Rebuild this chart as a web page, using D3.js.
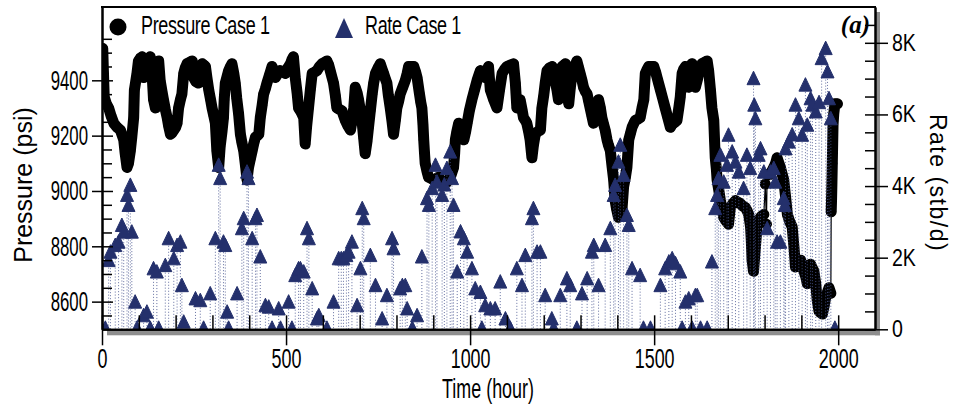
<!DOCTYPE html>
<html>
<head>
<meta charset="utf-8">
<script src="https://cdn.jsdelivr.net/npm/d3@7"></script>
<style>
  body { margin: 0; background: #fff; }
  svg { display: block; }
</style>
</head>
<body>
<svg id="chart" width="960" height="406"></svg>
<script>
// [hour, psi]
const pressureSeries = [[2,9515],[4,9425],[6,9340],[12,9315],[18,9300],[25,9270],[32,9245],[41,9230],[50,9220],[59,9185],[63,9135],[68,9085],[72,9100],[77,9145],[81,9195],[86,9265],[88,9365],[95,9425],[99,9470],[104,9480],[109,9485],[113,9410],[118,9440],[122,9460],[127,9480],[131,9485],[136,9425],[140,9330],[145,9300],[147,9365],[149,9425],[154,9470],[158,9400],[163,9360],[167,9330],[172,9295],[177,9265],[181,9235],[186,9205],[190,9210],[195,9220],[200,9230],[204,9245],[208,9300],[213,9330],[217,9350],[222,9425],[226,9445],[231,9460],[238,9465],[245,9470],[249,9410],[255,9395],[262,9390],[267,9425],[272,9460],[277,9455],[281,9450],[285,9410],[290,9365],[295,9330],[299,9300],[304,9270],[308,9245],[312,9145],[317,9085],[321,9160],[326,9215],[330,9265],[332,9330],[335,9390],[340,9415],[344,9435],[349,9450],[353,9460],[358,9425],[362,9390],[366,9335],[371,9280],[376,9205],[380,9175],[385,9145],[390,9090],[394,9040],[398,9085],[403,9115],[408,9145],[412,9170],[417,9195],[422,9200],[426,9205],[430,9265],[435,9310],[439,9350],[444,9370],[448,9390],[455,9420],[462,9450],[467,9430],[471,9410],[478,9425],[484,9435],[491,9430],[498,9425],[505,9445],[512,9460],[516,9475],[520,9485],[525,9410],[530,9355],[534,9300],[541,9285],[548,9265],[552,9170],[556,9235],[561,9300],[566,9365],[571,9425],[578,9430],[584,9435],[591,9450],[598,9460],[605,9465],[611,9470],[616,9455],[620,9435],[625,9410],[629,9390],[634,9345],[638,9300],[645,9295],[652,9290],[657,9270],[661,9255],[668,9235],[675,9220],[680,9260],[684,9300],[688,9375],[693,9355],[697,9330],[702,9290],[707,9245],[711,9190],[715,9135],[720,9180],[724,9230],[729,9290],[734,9350],[738,9390],[743,9425],[750,9445],[756,9460],[761,9440],[765,9425],[770,9405],[774,9390],[778,9345],[783,9300],[788,9250],[792,9205],[797,9255],[801,9300],[806,9325],[810,9350],[817,9375],[824,9400],[829,9425],[833,9450],[840,9450],[847,9450],[852,9430],[856,9410],[862,9355],[866,9320],[869,9300],[872,9240],[874,9185],[876,9140],[878,9100],[883,9070],[887,9050],[894,9045],[901,9040],[908,9045],[915,9050],[922,9035],[928,9025],[935,9030],[942,9040],[949,9060],[955,9085],[958,9135],[960,9185],[964,9215],[969,9245],[976,9215],[983,9185],[988,9215],[992,9245],[998,9290],[1005,9330],[1012,9365],[1019,9400],[1024,9420],[1028,9435],[1033,9430],[1037,9425],[1041,9410],[1046,9430],[1050,9450],[1055,9365],[1064,9330],[1073,9300],[1080,9365],[1087,9425],[1094,9440],[1100,9450],[1109,9455],[1118,9460],[1123,9390],[1127,9300],[1132,9315],[1136,9330],[1141,9295],[1145,9265],[1150,9255],[1154,9245],[1159,9215],[1163,9185],[1168,9120],[1172,9165],[1177,9205],[1184,9215],[1191,9220],[1195,9300],[1200,9345],[1204,9390],[1209,9435],[1216,9445],[1223,9450],[1227,9425],[1231,9400],[1236,9365],[1240,9330],[1245,9390],[1250,9450],[1255,9455],[1259,9460],[1263,9365],[1268,9315],[1272,9370],[1277,9425],[1284,9450],[1290,9470],[1295,9445],[1299,9425],[1304,9400],[1308,9375],[1313,9360],[1318,9350],[1322,9325],[1326,9300],[1331,9270],[1335,9245],[1342,9285],[1349,9330],[1354,9300],[1358,9265],[1363,9240],[1367,9220],[1372,9185],[1376,9165],[1381,9145],[1386,9085],[1390,9040],[1394,8965],[1398,8935],[1403,8905],[1408,8920],[1413,8940],[1417,9015],[1422,9050],[1426,9085],[1431,9185],[1436,9210],[1440,9230],[1445,9245],[1449,9255],[1456,9260],[1462,9265],[1467,9300],[1472,9330],[1476,9425],[1481,9440],[1485,9450],[1492,9450],[1499,9450],[1504,9430],[1508,9410],[1513,9385],[1517,9365],[1524,9330],[1530,9300],[1537,9265],[1544,9230],[1549,9240],[1553,9245],[1558,9250],[1562,9255],[1567,9300],[1571,9340],[1576,9425],[1580,9440],[1585,9450],[1590,9410],[1594,9375],[1599,9420],[1603,9460],[1608,9420],[1612,9375],[1617,9400],[1621,9425],[1626,9445],[1630,9460],[1637,9465],[1644,9470],[1648,9435],[1653,9365],[1657,9300],[1662,9255],[1664,9185],[1666,9120],[1669,9080],[1671,9040],[1676,9000],[1680,8965],[1685,8935],[1689,8905],[1696,8890],[1702,8880],[1707,8940],[1714,8955],[1721,8965],[1727,8960],[1734,8955],[1741,8945],[1748,8940],[1752,8930],[1757,8915],[1762,8870],[1764,8820],[1766,8750],[1770,8710],[1775,8795],[1780,8880],[1784,8895],[1789,8905],[1793,8910],[1798,8915],[1802,9025],[1805,8880],[1807,9060],[1812,9060],[1816,9060],[1821,9075],[1825,9085],[1830,9100],[1834,9120],[1839,9100],[1843,9085],[1848,9060],[1852,9040],[1857,8980],[1862,8915],[1868,8890],[1875,8870],[1880,8795],[1884,8725],[1891,8740],[1898,8750],[1903,8730],[1907,8710],[1912,8690],[1916,8665],[1921,8700],[1925,8735],[1930,8720],[1934,8710],[1939,8665],[1943,8605],[1948,8565],[1952,8560],[1957,8555],[1962,8585],[1966,8615],[1971,8635],[1975,8650],[1980,8630],[1981,8925],[1982,8970],[1983,9030],[1984,9100],[1985,9170],[1986,9240],[1988,9280],[1991,9315],[1995,9315],[1998,9315]];

// [hour, stb/d]
const rateSeries = [[9,0],[18,1890],[23,2125],[36,2310],[45,2405],[54,2870],[59,2685],[68,3710],[72,3430],[77,3990],[81,2685],[90,730],[95,0],[113,350],[122,450],[131,0],[140,1660],[149,1570],[154,0],[172,1750],[181,2500],[195,1940],[204,2310],[213,2405],[217,1190],[222,170],[254,820],[267,770],[276,0],[294,960],[308,2500],[317,4550],[321,4180],[330,2405],[335,2310],[340,450],[344,0],[367,960],[380,2780],[385,3060],[394,4360],[398,4180],[408,2500],[417,3060],[421,3150],[430,1990],[444,630],[453,590],[462,0],[480,540],[485,0],[507,730],[516,0],[525,1470],[534,1660],[539,1660],[548,1570],[557,2780],[562,2500],[571,1100],[584,260],[589,350],[611,0],[629,730],[643,1940],[650,1940],[656,1940],[664,2030],[670,2125],[679,2405],[693,630],[702,1660],[707,3340],[711,3060],[729,2030],[743,1190],[761,260],[774,910],[788,2500],[792,2220],[810,1100],[816,1190],[824,1190],[829,540],[843,0],[856,350],[869,1990],[883,3620],[888,3430],[897,3900],[906,4550],[910,4080],[924,3710],[930,4000],[937,4460],[946,4920],[951,4180],[955,3430],[965,1570],[974,2690],[983,2500],[992,2125],[1005,1660],[1014,1100],[1028,1000],[1032,0],[1041,630],[1055,540],[1068,540],[1082,1290],[1096,260],[1109,0],[1127,1660],[1141,1190],[1150,2030],[1168,3060],[1172,3340],[1182,2125],[1191,2125],[1204,910],[1222,260],[1227,0],[1245,910],[1263,1380],[1272,1190],[1290,0],[1304,960],[1318,1380],[1331,2125],[1336,2310],[1349,1190],[1367,2310],[1381,2780],[1390,3710],[1394,3990],[1403,4640],[1408,5110],[1417,4270],[1426,3150],[1431,2870],[1440,1660],[1462,1470],[1471,0],[1490,0],[1517,1190],[1530,1660],[1540,1850],[1549,1940],[1558,1800],[1571,1570],[1576,0],[1585,730],[1594,820],[1603,0],[1612,910],[1617,910],[1626,0],[1644,0],[1657,1850],[1666,3340],[1671,3710],[1675,4180],[1680,4830],[1689,4080],[1698,4550],[1702,5390],[1712,4920],[1721,4640],[1730,4360],[1743,3900],[1752,4830],[1761,4460],[1770,6970],[1772,6230],[1775,5850],[1784,4830],[1789,5010],[1798,4360],[1807,2780],[1816,4360],[1825,4460],[1829,4080],[1834,2405],[1843,2405],[1852,3620],[1855,3430],[1857,5010],[1866,5200],[1875,5400],[1884,6230],[1893,5850],[1902,5390],[1911,6790],[1916,5670],[1925,6410],[1930,6230],[1939,6040],[1948,6300],[1955,7530],[1966,7810],[1971,7160],[1975,6410],[1980,5850],[1991,0]];

const timeTicks = [0, 500, 1000, 1500, 2000];
const pressureTicks = [8600, 8800, 9000, 9200, 9400];
const rateTicks = [0, 2000, 4000, 6000, 8000];
const rateTickLabels = ["0", "2K", "4K", "6K", "8K"];

const plotL = 102, plotR = 875, plotT = 7, plotB = 329.3;
const navy = "#24306c";
const grey = "#8e8e8e";
const font = '"Liberation Sans", Arial, sans-serif';

const x = d3.scaleLinear().domain([0, 2100]).range([plotL, plotR]);
const yP = d3.scaleLinear().domain([8500, 9665]).range([plotB, plotT]);
const yR = d3.scaleLinear().domain([0, 9000]).range([plotB, plotT]);

const svg = d3.select("#chart");

// drop shadow of the frame
svg.append("rect").attr("x", 107).attr("y", plotB).attr("width", plotR + 5 - 107).attr("height", 6).attr("fill", grey);
svg.append("rect").attr("x", plotR).attr("y", 12).attr("width", 5).attr("height", plotB + 6 - 12).attr("fill", grey);
svg.append("rect").attr("x", plotL).attr("y", plotT).attr("width", plotR - plotL).attr("height", plotB - plotT).attr("fill", "#fff");

svg.append("clipPath").attr("id", "clip")
  .append("rect").attr("x", plotL).attr("y", plotT).attr("width", plotR - plotL).attr("height", plotB - plotT);

const plot = svg.append("g").attr("clip-path", "url(#clip)");

// pressure: thin connecting line, thick ribbon where points are dense
const line = d3.line().x(d => x(d[0])).y(d => yP(d[1]));
plot.append("path").datum(pressureSeries).attr("d", line)
  .attr("fill", "none").attr("stroke", "#000").attr("stroke-width", 1.2);

const runs = [];
let cur = [pressureSeries[0]];
for (let i = 1; i < pressureSeries.length; i++) {
  const a = pressureSeries[i - 1], b = pressureSeries[i];
  if (Math.abs(yP(a[1]) - yP(b[1])) < 30) cur.push(b);
  else { runs.push(cur); cur = [b]; }
}
runs.push(cur);

plot.selectAll("path.run").data(runs).join("path")
  .attr("class", "run")
  .attr("d", line)
  .attr("fill", "none").attr("stroke", "#000")
  .attr("stroke-width", 11).attr("stroke-linejoin", "round").attr("stroke-linecap", "round");

plot.selectAll("circle.p").data(pressureSeries).join("circle")
  .attr("class", "p")
  .attr("cx", d => x(d[0])).attr("cy", d => yP(d[1])).attr("r", 5).attr("fill", "#000");

// rate: dotted drop lines + triangles
plot.selectAll("line.drop").data(rateSeries.filter(d => d[1] > 0)).join("line")
  .attr("class", "drop")
  .attr("x1", d => x(d[0])).attr("x2", d => x(d[0]))
  .attr("y1", d => yR(d[1])).attr("y2", plotB)
  .attr("stroke", "#4a5790").attr("stroke-opacity", 0.85)
  .attr("stroke-width", 1).attr("stroke-dasharray", "1,2");

const tri = "M0,-8.5L6.5,5L-6.5,5Z";
plot.selectAll("path.tri").data(rateSeries).join("path")
  .attr("class", "tri")
  .attr("d", tri)
  .attr("transform", d => `translate(${x(d[0])},${yR(d[1])})`)
  .attr("fill", navy).attr("stroke", navy).attr("stroke-width", 1).attr("stroke-linejoin", "round");

// axes
function styleAxis(g) {
  g.select(".domain").attr("stroke", "#000").attr("stroke-width", 2);
  g.selectAll(".tick line").attr("stroke", "#000").attr("stroke-width", 1.5);
}

// left: minor then major
const gLm = svg.append("g").attr("transform", `translate(${plotL},0)`)
  .call(d3.axisLeft(yP).tickValues(d3.range(8550, 9601, 50).filter(v => v % 200 !== 0))
    .tickSize(-10).tickSizeOuter(0).tickFormat(""));
styleAxis(gLm);
const gL = svg.append("g").attr("transform", `translate(${plotL},0)`)
  .call(d3.axisLeft(yP).tickValues(pressureTicks).tickSize(10).tickSizeOuter(0).tickFormat(d3.format("d")));
styleAxis(gL);
gL.selectAll(".tick line").attr("x1", 11);
gL.selectAll(".tick text")
  .attr("font-family", font).attr("font-size", 28).attr("fill", "#000")
  .attr("transform", "scale(0.6,1)").attr("x", -14 / 0.6);

// bottom
const gBm = svg.append("g").attr("transform", `translate(0,${plotB})`)
  .call(d3.axisBottom(x).tickValues(d3.range(100, 2100, 100).filter(v => v % 500 !== 0))
    .tickSize(-14).tickSizeOuter(0).tickFormat(""));
styleAxis(gBm);
const gB = svg.append("g").attr("transform", `translate(0,${plotB})`)
  .call(d3.axisBottom(x).tickValues(timeTicks).tickSize(16).tickSizeOuter(0).tickFormat(d3.format("d")));
styleAxis(gB);
gB.selectAll(".tick line").attr("y1", -14);
gB.selectAll(".tick text")
  .attr("font-family", font).attr("font-size", 28).attr("fill", "#000")
  .attr("transform", "scale(0.64,1)").attr("y", 19);

// right
const gRm = svg.append("g").attr("transform", `translate(${plotR},0)`)
  .call(d3.axisRight(yR).tickValues(d3.range(500, 8501, 500).filter(v => v % 2000 !== 0))
    .tickSize(-10).tickSizeOuter(0).tickFormat(""));
styleAxis(gRm);
const gR = svg.append("g").attr("transform", `translate(${plotR},0)`)
  .call(d3.axisRight(yR).tickValues(rateTicks).tickSize(13).tickSizeOuter(0)
    .tickFormat((d, i) => rateTickLabels[i]));
styleAxis(gR);
gR.selectAll(".tick line").attr("x1", -10);
gR.selectAll(".tick text")
  .attr("font-family", font).attr("font-size", 23).attr("fill", "#000")
  .attr("transform", "scale(0.85,1)").attr("x", 17 / 0.85);

// top frame line
svg.append("line").attr("x1", plotL - 1).attr("x2", plotR + 1).attr("y1", plotT).attr("y2", plotT)
  .attr("stroke", "#000").attr("stroke-width", 2);

// axis titles
svg.append("text")
  .attr("transform", "translate(32,185) rotate(-90)")
  .attr("text-anchor", "middle").attr("font-family", font).attr("font-size", 25)
  .text("Pressure (psi)");

svg.append("text")
  .attr("transform", "translate(930,183) rotate(90)")
  .attr("text-anchor", "middle").attr("font-family", font).attr("font-size", 23)
  .attr("letter-spacing", 1.5)
  .text("Rate (stb/d)");

svg.append("g").attr("transform", "translate(488,398)")
  .append("text").attr("transform", "scale(0.64,1)")
  .attr("text-anchor", "middle").attr("font-family", font).attr("font-size", 28)
  .text("Time (hour)");

// legend
svg.append("circle").attr("cx", 118).attr("cy", 27).attr("r", 8.5).attr("fill", "#000");
svg.append("g").attr("transform", "translate(141,34)")
  .append("text").attr("transform", "scale(0.72,1)")
  .attr("font-family", font).attr("font-size", 25).attr("letter-spacing", -0.5)
  .text("Pressure Case 1");

svg.append("path").attr("d", "M0,-10L9,10L-9,10Z")
  .attr("transform", "translate(344,28)").attr("fill", navy);
svg.append("g").attr("transform", "translate(365,34)")
  .append("text").attr("transform", "scale(0.72,1)")
  .attr("font-family", font).attr("font-size", 25).attr("letter-spacing", -0.5)
  .text("Rate Case 1");

svg.append("text")
  .attr("x", 870).attr("y", 33).attr("text-anchor", "end")
  .attr("font-family", '"Liberation Serif", "Times New Roman", serif')
  .attr("font-size", 25).attr("font-weight", "bold").attr("font-style", "italic")
  .text("(a)");
</script>
</body>
</html>
